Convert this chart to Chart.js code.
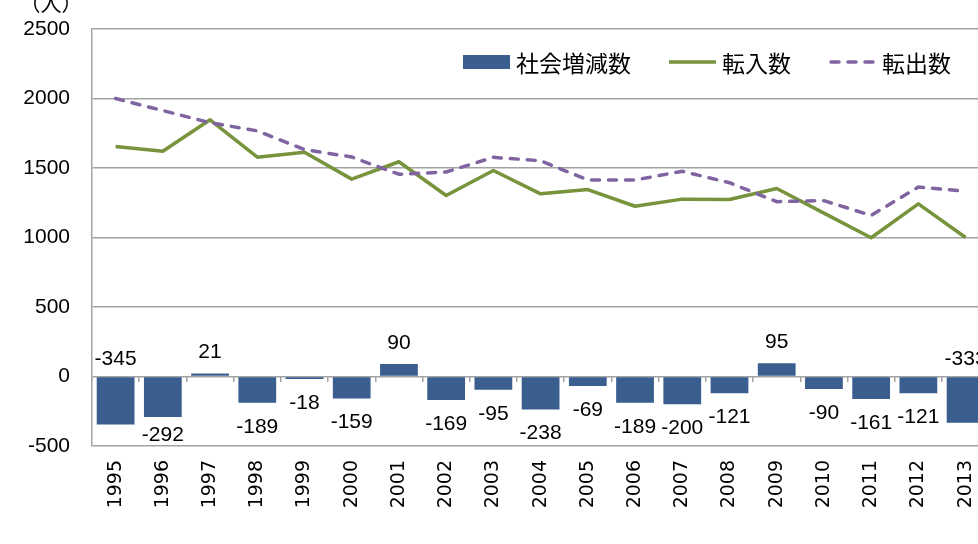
<!DOCTYPE html>
<html>
<head>
<meta charset="utf-8">
<script src="https://cdn.jsdelivr.net/npm/chart.js@4"></script>
<style>
html,body{margin:0;padding:0;overflow:hidden;background:#fff;}
#wrap{width:1000px;height:544px;position:relative;}
</style>
</head>
<body>
<div id="wrap"><canvas id="c"></canvas></div>
<script>
const years = ['1995','1996','1997','1998','1999','2000','2001','2002','2003','2004','2005','2006','2007','2008','2009','2010','2011','2012','2013'];
const socialChange = [-345,-292,21,-189,-18,-159,90,-169,-95,-238,-69,-189,-200,-121,95,-90,-161,-121,-333];
const moveIn = [1655,1621,1847,1578,1614,1420,1545,1302,1482,1314,1345,1225,1276,1273,1353,1175,998,1242,1000];
const moveOut = [2000,1913,1826,1767,1632,1579,1455,1471,1577,1552,1414,1414,1476,1394,1258,1265,1159,1363,1333];
const seriesNames = ['社会増減数','転入数','転出数'];
const yTicks = [-500,0,500,1000,1500,2000,2500];
const unitLabel = '（人）';

const BAR = '#3A5F8F', GREEN = '#77933C', PURPLE = '#8064A2', GRID = '#a3a3a3';
const NUMFONT = '"Liberation Sans", Arial, sans-serif';
const JPFONT = '"Noto Sans CJK JP", sans-serif';

const labelPlugin = {
  id: 'labels',
  afterDatasetsDraw(chart) {
    const ctx = chart.ctx, area = chart.chartArea;
    const meta = chart.getDatasetMeta(0);
    const y0 = chart.scales.y.getPixelForValue(0);
    ctx.save();
    ctx.font = '21px ' + NUMFONT;
    ctx.fillStyle = '#000';
    ctx.textAlign = 'center';
    ctx.textBaseline = 'middle';
    meta.data.forEach((bar, i) => {
      const v = chart.data.datasets[0].data[i];
      let y;
      if (v >= 0) {
        y = bar.y - 21;
      } else {
        y = bar.y + 24;
        if (y + 10 > area.bottom) y = area.bottom - 11;
        if (y - 10 < bar.y + 3) y = y0 - 17;
      }
      ctx.fillText(String(v), bar.x, y);
    });
    ctx.restore();
  },
  afterDraw(chart) {
    const ctx = chart.ctx;
    ctx.save();
    ctx.font = '21px ' + JPFONT;
    ctx.fillStyle = '#000';
    ctx.textAlign = 'center';
    ctx.textBaseline = 'middle';
    ctx.fillText(unitLabel, 51, 3);
    const ds = chart.data.datasets;
    let x = 463; const ly = 62; const sw = 47;
    ctx.font = '23px ' + JPFONT;
    ctx.textAlign = 'left';
    ds.forEach((d) => {
      if (d.type === 'line') {
        ctx.strokeStyle = d.borderColor;
        ctx.lineWidth = d.borderWidth;
        ctx.lineCap = d.borderDash ? 'round' : 'butt';
        ctx.setLineDash(d.borderDash || []);
        ctx.beginPath();
        const pad = d.borderDash ? 2 : 0;
        ctx.moveTo(x + pad, ly); ctx.lineTo(x + sw - pad, ly); ctx.stroke();
        ctx.setLineDash([]);
      } else {
        ctx.fillStyle = d.backgroundColor;
        ctx.fillRect(x, ly - 7, sw, 14);
      }
      ctx.fillStyle = '#000';
      ctx.fillText(d.label, x + sw + 6, ly + 1);
      x += sw + 6 + ctx.measureText(d.label).width + 38;
    });
    ctx.restore();
  }
};

new Chart(document.getElementById('c'), {
  type: 'bar',
  data: {
    labels: years,
    datasets: [
      { type: 'bar', label: seriesNames[0], data: socialChange, backgroundColor: BAR,
        barPercentage: 0.8, categoryPercentage: 1.0, order: 2 },
      { type: 'line', label: seriesNames[1], data: moveIn, borderColor: GREEN, backgroundColor: GREEN,
        borderWidth: 3.5, pointRadius: 0, tension: 0, fill: false, order: 1, borderJoinStyle: 'round' },
      { type: 'line', label: seriesNames[2], data: moveOut, borderColor: PURPLE, backgroundColor: PURPLE,
        borderWidth: 3.5, borderDash: [8, 9], borderCapStyle: 'round', pointRadius: 0, tension: 0, fill: false, order: 0 }
    ]
  },
  options: {
    responsive: true,
    maintainAspectRatio: false,
    animation: false,
    events: [],
    layout: { padding: { top: 29, right: 10.8, left: 0, bottom: 0 } },
    plugins: { legend: { display: false }, tooltip: { enabled: false }, title: { display: false } },
    scales: {
      x: {
        type: 'category',
        position: 'bottom',
        offset: true,
        grid: { display: false, drawTicks: false },
        border: { display: false },
        ticks: { minRotation: 90, maxRotation: 90, padding: 14, color: '#000', autoSkip: false,
                 font: { family: '"DejaVu Sans", sans-serif', size: 19 } },
        afterFit(s) { s.height = 98; s.paddingLeft = 0; s.paddingRight = 0; }
      },
      x0: {
        type: 'category',
        position: { y: 0 },
        offset: true,
        grid: { offset: true, drawOnChartArea: false, drawTicks: true, tickLength: 5, color: GRID, lineWidth: 1.5 },
        border: { display: false },
        ticks: { display: false }
      },
      y: {
        min: -500, max: 2500,
        afterBuildTicks(s) { s.ticks = yTicks.map(v => ({ value: v })); },
        grid: { color: GRID, lineWidth: 1.5, drawTicks: false },
        border: { color: GRID, width: 1.5 },
        ticks: { padding: 22, color: '#000', font: { family: NUMFONT, size: 21 },
                 callback: (v) => String(v) },
        afterFit(s) { s.width = 92; s.paddingTop = 0; s.paddingBottom = 0; }
      }
    }
  },
  plugins: [labelPlugin]
});
</script>
</body>
</html>
